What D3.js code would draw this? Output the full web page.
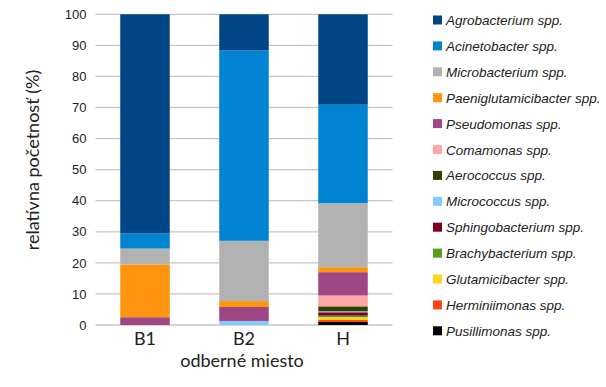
<!DOCTYPE html>
<html>
<head>
<meta charset="utf-8">
<script src="https://cdn.jsdelivr.net/npm/d3@7"></script>
<style>
  body { margin: 0; background: #fff; }
  svg { display: block; }
</style>
</head>
<body>
<div id="chart"><svg width="606" height="387"></svg></div>
<script>
const SITES = ['B1', 'B2', 'H'];
const SPECIES = [
  'Pusillimonas spp.', 'Herminiimonas spp.', 'Glutamicibacter spp.', 'Brachybacterium spp.',
  'Sphingobacterium spp.', 'Micrococcus spp.', 'Aerococcus spp.', 'Comamonas spp.',
  'Pseudomonas spp.', 'Paeniglutamicibacter spp.', 'Microbacterium spp.', 'Acinetobacter spp.',
  'Agrobacterium spp.'
];
// values per species for B1, B2, H (percent)
const PUSILLIMONAS = [0, 0, 1.0];
const HERMINIIMONAS = [0, 0, 0.6];
const GLUTAMICIBACTER = [0, 0, 0.9];
const BRACHYBACTERIUM = [0, 0, 0.5];
const SPHINGOBACTERIUM = [0, 0, 1.1];
const MICROCOCCUS = [0, 1.3, 0.3];
const AEROCOCCUS = [0, 0, 1.6];
const COMAMONAS = [0, 0, 3.5];
const PSEUDOMONAS = [2.5, 4.5, 7.5];
const PAENIGLUTAMICIBACTER = [17.0, 1.9, 1.6];
const MICROBACTERIUM = [5.1, 19.4, 20.6];
const ACINETOBACTER = [4.9, 61.3, 31.7];
const AGROBACTERIUM = [70.5, 11.6, 29.1];
const COLORS = [
  '#000000', '#ff420e', '#ffd320', '#579d1c', '#7e0021', '#83caff', '#314004',
  '#ffa6a6', '#9e4784', '#ff950e', '#b2b2b2', '#0084d1', '#004586'
];
const Y_TICKS = [0, 10, 20, 30, 40, 50, 60, 70, 80, 90, 100];

const VALUES = [PUSILLIMONAS, HERMINIIMONAS, GLUTAMICIBACTER, BRACHYBACTERIUM, SPHINGOBACTERIUM,
  MICROCOCCUS, AEROCOCCUS, COMAMONAS, PSEUDOMONAS, PAENIGLUTAMICIBACTER, MICROBACTERIUM,
  ACINETOBACTER, AGROBACTERIUM];

const table = SITES.map((s, i) => {
  const row = { site: s };
  SPECIES.forEach((sp, j) => { row[sp] = VALUES[j][i]; });
  return row;
});

const SVG = d3.select('#chart svg');
const LEFT = 95.5, RIGHT = 392.5, TOP = 14.3, BOTTOM = 325;

const X_SCALE = d3.scaleBand().domain(SITES).range([LEFT, RIGHT]).paddingInner(0.5).paddingOuter(0.25);
const Y_SCALE = d3.scaleLinear().domain([0, 100]).range([BOTTOM, TOP]);
const COLOR = d3.scaleOrdinal().domain(SPECIES).range(COLORS);

// gridlines
SVG.append('g')
  .selectAll('line')
  .data(Y_TICKS)
  .join('line')
  .attr('x1', LEFT)
  .attr('x2', RIGHT)
  .attr('y1', d => Y_SCALE(d))
  .attr('y2', d => Y_SCALE(d))
  .style('stroke', '#c6c6c6')
  .style('stroke-width', 1.3);

const Y_AXIS = d3.axisLeft(Y_SCALE).tickValues(Y_TICKS).tickSize(0).tickPadding(9);
const Y_AXIS_G = SVG.append('g')
  .attr('transform', `translate(${LEFT},0)`);
Y_AXIS(Y_AXIS_G);
Y_AXIS_G.select('.domain').remove();
Y_AXIS_G.selectAll('text')
  .style('font-family', '"Liberation Sans", Arial, sans-serif')
  .style('font-size', '13px')
  .style('fill', '#222');

const stack = d3.stack().keys(SPECIES)(table);

SVG.append('g')
  .selectAll('g')
  .data(stack)
  .join('g')
  .style('fill', d => COLOR(d.key))
  .selectAll('rect')
  .data(d => d)
  .join('rect')
  .attr('x', d => X_SCALE(d.data.site))
  .attr('width', X_SCALE.bandwidth())
  .attr('y', d => Y_SCALE(d[1]))
  .attr('height', d => Y_SCALE(d[0]) - Y_SCALE(d[1]));

const X_AXIS = d3.axisBottom(X_SCALE).tickSize(0).tickPadding(7);
const X_AXIS_G = SVG.append('g')
  .attr('transform', `translate(0,${BOTTOM})`);
X_AXIS(X_AXIS_G);
X_AXIS_G.select('.domain').remove();
X_AXIS_G.selectAll('text')
  .style('font-family', 'Lato, Carlito, sans-serif')
  .style('font-size', '18px')
  .style('fill', '#222');

SVG.append('text')
  .text('odberné miesto')
  .attr('x', (LEFT + RIGHT) / 2 - 2)
  .attr('y', 367)
  .style('text-anchor', 'middle')
  .style('font-family', 'Lato, Carlito, sans-serif')
  .style('font-size', '18px')
  .style('fill', '#222');

SVG.append('text')
  .text('relatívna početnosť (%)')
  .attr('transform', 'translate(39,160) rotate(-90)')
  .style('text-anchor', 'middle')
  .style('font-family', 'Lato, Carlito, sans-serif')
  .style('font-size', '18px')
  .style('fill', '#222');

// legend, top of stack first
const LEGEND = SVG.append('g')
  .selectAll('g')
  .data(SPECIES.slice().reverse())
  .join('g')
  .attr('transform', (d, i) => `translate(433,${20 + i * 25.9})`);

LEGEND.append('rect')
  .attr('x', 0)
  .attr('y', -4.5)
  .attr('width', 9)
  .attr('height', 9)
  .style('fill', d => COLOR(d));

LEGEND.append('text')
  .text(d => d)
  .attr('x', 13)
  .attr('y', 5)
  .style('font-family', '"Liberation Sans", Arial, sans-serif')
  .style('font-style', 'italic')
  .style('font-size', '13.5px')
  .style('fill', '#222');
</script>
</body>
</html>
